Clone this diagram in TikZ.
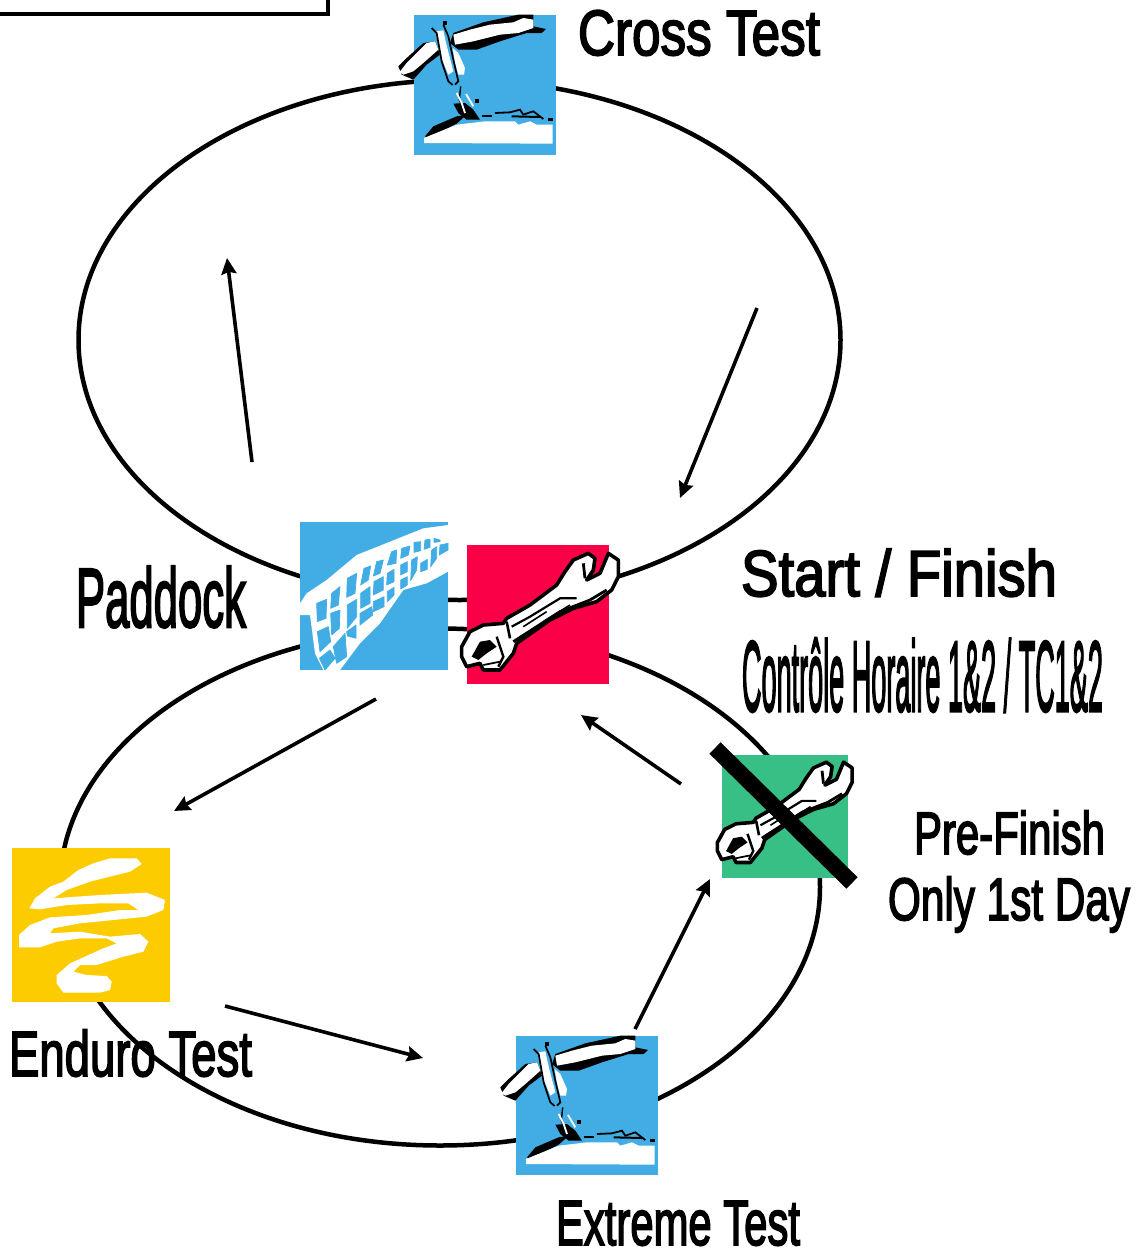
\documentclass[tikz,border=0pt]{standalone}
\usepackage{fontspec}
\usepackage{graphicx}
\usetikzlibrary{shapes.geometric,arrows.meta}
\newfontfamily\lblfont[FakeBold=3]{Liberation Sans}
\newcommand\lbl[3]{\lblfont\fontsize{#1}{#1}\selectfont\resizebox{#2pt}{\height}{#3}}
\definecolor{iconblue}{HTML}{42ADE5}
\definecolor{iconred}{HTML}{FA0046}
\definecolor{icongreen}{HTML}{38BF85}
\definecolor{iconyellow}{HTML}{FCCC00}
\tikzset{
  loopline/.style={draw=black,line width=4.5pt,ellipse,inner sep=0pt,minimum width=#1},
  flow/.style={draw=black,line width=3.6pt,-{Stealth[length=16pt,width=15pt,inset=2pt]}},
  lab/.style={anchor=base west,inner sep=0pt,outer sep=0pt,text=black},
  iconbox/.style={inner sep=0pt,outer sep=0pt,anchor=north west,minimum width=#1},
  pics/wrench/.style={code={
    \begin{scope}[scale=#1/3,shift={(-531,-105)}]
    \fill[white,draw=black,line width=3.6pt,line join=round]
      (515,410)--(540,365)--(580,345)--(640,340)--(650,325)--(720,285)--(800,225)--(825,185)--(850,150)--(895,130)--(915,145)--(910,180)--(890,210)--(930,190)--(955,130)--(985,150)--(985,200)--(965,240)--(920,275)--(850,295)--(780,330)--(680,400)--(670,430)--(630,480)--(580,480)--(570,460)--(530,470)--(515,440)--cycle;
    \fill[black] (570,395)--(600,390)--(620,410)--(590,430)--(565,450)--(545,440)--cycle;
    \draw[black,line width=2.2pt] (665,350)--(720,320)--(810,265)--(860,265);
    \draw[black,line width=2.8pt] (670,395)--(740,350)--(810,305)--(900,270)--(950,240);
    \draw[black,line width=1.6pt] (700,350)--(770,305);
    \draw[black,line width=1.6pt] (760,335)--(840,285);
    \draw[black,line width=2.6pt] (650,335)--(660,385);
    \draw[black,line width=2.8pt] (880,160)--(885,205);
    \draw[black,line width=2.4pt] (620,380)--(640,440)--(625,470);
    \draw[black,line width=1.8pt] (580,465)--(630,455);
    \end{scope}}},
  pics/antenna/.style={code={
    \begin{scope}[scale=1/3,shift={(-72,-46)}]
    \fill[black] (190,100)--(280,68)--(385,45)--(430,45)--(430,80)--(468,88)--(455,100)--(410,100)--(330,125)--(260,150)--(205,150)--(180,130)--cycle;
    \fill[white] (190,105)--(240,90)--(300,75)--(370,68)--(400,55)--(430,60)--(430,85)--(385,100)--(330,105)--(250,125)--(195,135)--cycle;
    \fill[black] (25,200)--(50,175)--(100,130)--(135,125)--(150,165)--(110,195)--(70,240)--(35,225)--cycle;
    \fill[white] (28,218)--(50,190)--(110,130)--(135,125)--(145,150)--(100,190)--(70,215)--(40,225)--cycle;
    \fill[white] (138,95)--(160,92)--(168,130)--(190,215)--(175,225)--(150,165)--cycle;
    \fill[white] (188,145)--(205,160)--(225,205)--(222,225)--(205,225)--(195,190)--cycle;
    \draw[black,line width=1.7pt] (125,85)--(140,100)--(155,185)--(175,245)--(188,256);
    \draw[black,line width=1.7pt] (160,75)--(175,110)--(190,180)--(205,245)--(195,255);
    \fill[black] (158,65) rectangle (170,77);
    \draw[black,line width=1.4pt] (212,260)--(208,300)--(228,350);
    \fill[black] (190,312)--(225,310)--(250,330)--(270,360)--(230,360)--(205,340)--cycle;
    \draw[white,line width=1.8pt] (200,280)--(215,310)--(225,340);
    \draw[white,line width=1.8pt] (228,283)--(250,320);
    \fill[black] (255,297) rectangle (267,309);
    \draw[black,line width=1.8pt] (275,350)--(305,350);
    \draw[black,line width=1.8pt] (315,340)--(360,338)--(390,330)--(400,345)--(430,335)--(460,358);
    \draw[black,line width=2pt] (365,350)--(450,352);
    \fill[black] (475,355) rectangle (488,365);
    \fill[black] (105,410)--(130,380)--(200,350)--(230,345)--(200,372)--(115,415)--cycle;
    \fill[white] (102,430)--(102,415)--(200,375)--(285,365)--(375,365)--(385,375)--(420,365)--(440,375)--(488,375)--(488,432)--cycle;
    \end{scope}}},
  pics/netting/.style={code={
    \begin{scope}[scale=1/3,shift={(-30,-36)}]
    \fill[white] (30,280)--(50,250)--(110,210)--(200,135)--(300,95)--(400,55)--(474,45)--(474,185)--(410,220)--(340,240)--(270,340)--(210,400)--(150,480)--(105,490)--(75,430)--(60,315)--(30,315)--cycle;
    \filldraw[iconblue,line width=0.7pt,line join=round]
      (80,280)--(110,268)--(108,325)--(82,335)--cycle
      (125,250)--(150,230)--(145,285)--(122,295)--cycle
      (172,205)--(200,190)--(195,250)--(170,262)--cycle
      (222,175)--(242,168)--(235,210)--(212,225)--cycle
      (260,155)--(280,150)--(270,190)--(250,198)--cycle
      (305,125)--(320,120)--(318,160)--(292,165)--cycle
      (335,115)--(360,108)--(355,135)--(332,145)--cycle
      (372,97)--(392,95)--(392,122)--(372,127)--cycle
      (405,90)--(420,88)--(420,112)--(402,118)--cycle
      (432,85)--(450,90)--(450,95)--(432,97)--cycle
      (82,365)--(115,350)--(122,395)--(90,425)--cycle
      (122,310)--(150,300)--(148,355)--(125,375)--cycle
      (172,285)--(200,268)--(200,320)--(172,355)--cycle
      (212,250)--(240,230)--(240,280)--(212,295)--cycle
      (252,215)--(280,200)--(280,240)--(250,255)--cycle
      (292,190)--(312,178)--(312,215)--(290,225)--cycle
      (332,165)--(352,155)--(352,185)--(332,195)--cycle
      (365,150)--(382,140)--(380,180)--(362,212)--cycle
      (392,160)--(412,148)--(412,178)--(392,185)--cycle
      (425,120)--(440,110)--(440,145)--(422,170)--cycle
      (450,105)--(474,100)--(474,120)--(448,135)--cycle
      (210,310)--(245,290)--(248,315)--(210,345)--cycle
      (250,275)--(282,260)--(282,290)--(250,305)--cycle
      (292,245)--(312,232)--(312,255)--(292,275)--cycle
      (332,210)--(352,200)--(352,225)--(332,237)--cycle
      (170,365)--(198,345)--(198,385)--(172,378)--cycle
      (130,410)--(165,370)--(170,440)--(140,460)--cycle
      (88,445)--(120,420)--(135,445)--(105,480)--cycle;
    \end{scope}}},
  pics/squiggle/.style={code={
    \begin{scope}[scale=1/3,shift={(-36,-24)}]
    \fill[white] (88,205)--(105,175)--(150,140)--(190,125)--(235,90)--(280,70)--(330,55)--(410,55)--(425,72)--(390,95)--(350,105)--(270,125)--(200,150)--(160,175)--(300,165)--(440,158)--(495,180)--(490,210)--(440,230)--(340,240)--(240,250)--(160,265)--(150,280)--(240,275)--(330,290)--(420,282)--(445,305)--(430,335)--(370,350)--(290,375)--(240,375)--(220,395)--(260,405)--(320,408)--(335,425)--(330,450)--(300,458)--(190,458)--(170,430)--(170,405)--(210,370)--(310,325)--(350,310)--(320,295)--(240,295)--(170,305)--(120,322)--(57,322)--(57,285)--(90,255)--(150,232)--(260,225)--(360,210)--(415,210)--(385,190)--(300,190)--(200,195)--(120,208)--cycle;
    \end{scope}}}
}
\begin{document}
\begin{tikzpicture}[x=1pt,y=-1pt]
\useasboundingbox (0,0) rectangle (1145,1253);
% legend box corner
\coordinate (legA) at (0,14);
\coordinate (legB) at (328,14);
\coordinate (legC) at (328,0);
\draw[line width=4pt] (legA)--(legB)--(legC);
% loops
\node[loopline=762pt,minimum height=520pt] (upper) at (459.5,340) {};
\node[loopline=760pt,minimum height=517pt] (lower) at (440,887) {};
% icons
\node[iconbox=142pt,minimum height=140pt,fill=iconblue] (cross) at (414,15) {};
\pic at (cross.north west) {antenna};
\node[iconbox=148pt,minimum height=148pt,fill=iconblue] (paddock) at (300,522) {};
\pic at (paddock.north west) {netting};
\node[iconbox=142pt,minimum height=139pt,fill=iconred] (startfin) at (467,545) {};
\pic at (startfin.north west) {wrench=1};
\node[iconbox=126pt,minimum height=123pt,fill=icongreen] (prefin) at (722,755) {};
\pic at (prefin.north west) {wrench=0.86};
\node[iconbox=158pt,minimum height=154pt,fill=iconyellow] (enduro) at (12,848) {};
\pic at (enduro.north west) {squiggle};
\node[iconbox=142pt,minimum height=139pt,fill=iconblue] (extreme) at (516,1036) {};
\pic at (extreme.north west) {antenna};
% cancel bar
\coordinate (barA) at (715,748);
\coordinate (barB) at (852,883);
\draw[line width=16pt] (barA)--(barB);
% arrows
\coordinate (a1s) at (252,462); \coordinate (a1e) at (227,258);
\coordinate (a2s) at (757,308); \coordinate (a2e) at (680,498);
\coordinate (a3s) at (376,699); \coordinate (a3e) at (174,811);
\coordinate (a4s) at (225,1006); \coordinate (a4e) at (423,1058);
\coordinate (a5s) at (635,1029); \coordinate (a5e) at (710,879);
\coordinate (a6s) at (681,784); \coordinate (a6e) at (581,715);
\draw[flow] (a1s)--(a1e);
\draw[flow] (a2s)--(a2e);
\draw[flow] (a3s)--(a3e);
\draw[flow] (a4s)--(a4e);
\draw[flow] (a5s)--(a5e);
\draw[flow] (a6s)--(a6e);
% labels
\node[lab] (tcross) at (578,55) {\lbl{64}{242}{Cross Test}};
\node[lab] (tstart) at (741,596) {\lbl{65}{316}{Start / Finish}};
\node[lab] (tctrl) at (742,711) {\lbl{100}{361}{Contrôle Horaire 1\&2 / TC1\&2}};
\node[lab] (tpaddock) at (76,627) {\lbl{84}{170}{Paddock}};
\node[lab] (tpre) at (914,854) {\lbl{60}{191}{Pre-Finish}};
\node[lab] (tonly) at (888,920) {\lbl{60}{242}{Only 1st Day}};
\node[lab] (tenduro) at (9,1076) {\lbl{64}{243}{Enduro Test}};
\node[lab] (textreme) at (556,1245) {\lbl{64}{244}{Extreme Test}};
\end{tikzpicture}
\end{document}
